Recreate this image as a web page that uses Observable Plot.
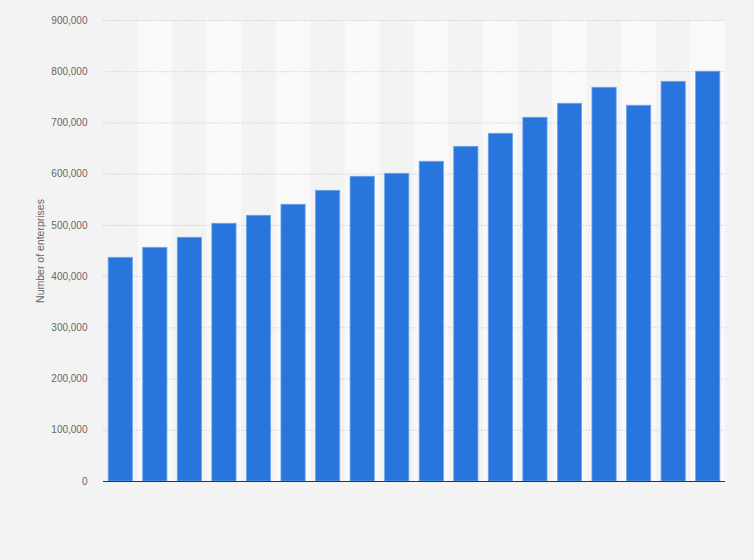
<!DOCTYPE html>
<html>
<head>
<meta charset="utf-8">
<script src="https://cdn.jsdelivr.net/npm/d3@7"></script>
<script src="https://cdn.jsdelivr.net/npm/@observablehq/plot@0.6"></script>
<style>
  html, body { margin: 0; padding: 0; background: #f3f3f3; }
  #chart { width: 754px; height: 560px; }
  svg { font-family: "Liberation Sans", Arial, sans-serif; }
</style>
</head>
<body>
<div id="chart"></div>
<script>
const years = ["2003","2004","2005","2006","2007","2008","2009","2010","2011","2012","2013","2014","2015","2016","2017","2018","2019","2020"];
const enterprises = [436700, 456200, 475800, 503100, 518700, 540200, 567500, 594900, 600700, 624200, 653400, 678800, 710100, 737400, 768600, 733500, 780300, 800000];
const yTicks = [0, 100000, 200000, 300000, 400000, 500000, 600000, 700000, 800000, 900000];

const data = years.map((y, i) => ({year: y, value: enterprises[i], i}));
const bands = data.filter(d => d.i % 2 === 1);

const W = 754, H = 560, mL = 103, mR = 29, mT = 20, mB = 79;
const step = (W - mL - mR) / years.length;
const outer = 0.15 * step;

const chart = Plot.plot({
  width: W,
  height: H,
  marginLeft: mL,
  marginRight: mR,
  marginTop: mT,
  marginBottom: mB,
  style: {background: "#f3f3f3", fontSize: "10px", color: "#666"},
  x: {domain: years, paddingInner: 0.3, paddingOuter: 0.15, round: false, axis: null},
  y: {domain: [0, 900000], ticks: yTicks, label: null, tickFormat: d3.format(",")},
  marks: [
    Plot.barY(bands, {x: "year", y1: 0, y2: 900000, fill: "#f9f9f9", insetLeft: -outer, insetRight: -outer}),
    Plot.gridY(yTicks, {stroke: "#cfcfcf", strokeOpacity: 1, strokeDasharray: "1.5,1.5"}),
    Plot.axisY(yTicks, {tickSize: 0, tickPadding: 16, fill: "#666", fontSize: 10, tickFormat: d3.format(","), label: null}),
    Plot.barY(data, {x: "year", y: "value", fill: "#2876dd", stroke: "#6aa4ea", strokeWidth: 0.8}),
    Plot.ruleY([0], {stroke: "#333", strokeWidth: 1.2}),
    Plot.text(["Number of enterprises"], {frameAnchor: "left", textAnchor: "middle", dx: -63, rotate: -90, fill: "#666", fontSize: 10.5})
  ]
});
document.getElementById("chart").appendChild(chart);
</script>
</body>
</html>
